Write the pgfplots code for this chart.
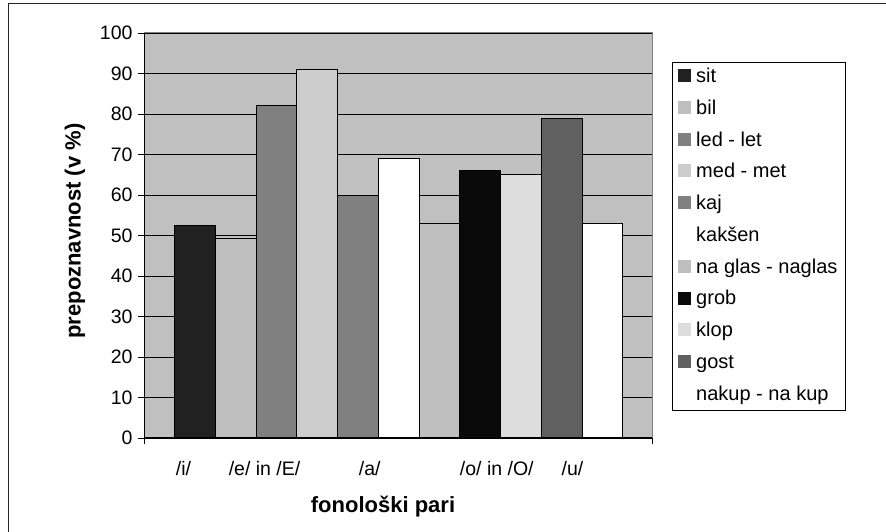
\documentclass[border=0pt]{standalone}
\usepackage{fontspec}
\setmainfont{Liberation Sans}
\usepackage{pgfplots}
\pgfplotsset{compat=1.18}

\definecolor{plotbg}{HTML}{C0C0C0}
\definecolor{framegray}{HTML}{808080}
\definecolor{csit}{HTML}{212121}
\definecolor{cbil}{HTML}{BFBFBF}
\definecolor{cled}{HTML}{808080}
\definecolor{cmed}{HTML}{CDCDCD}
\definecolor{ckaj}{HTML}{808080}
\definecolor{ckaksen}{HTML}{FFFFFF}
\definecolor{cglas}{HTML}{BFBFBF}
\definecolor{cgrob}{HTML}{0A0A0A}
\definecolor{cklop}{HTML}{DDDDDD}
\definecolor{cgost}{HTML}{606060}
\definecolor{cnakup}{HTML}{FFFFFF}

\begin{document}
\begin{tikzpicture}[x=1pt,y=1pt]
\path[use as bounding box] (0,0) rectangle (886,532);
% outer chart frame (cut off at right and bottom)
\draw[line width=1pt, black!85] (8,0) -- (8,528) -- (886,528);

\begin{axis}[
  at={(144pt,94pt)}, anchor=south west,
  scale only axis, width=508pt, height=405pt,
  ybar, bar width=1, bar shift=0pt,
  xmin=-1.25, xmax=11.22,
  ymin=0, ymax=100,
  ytick={0,10,...,100},
  xtick={-0.28,1.71,4.29,7.41,9.27},
  xticklabels={/i/, /e/ in /E/, /a/, /o/ in /O/, /u/},
  extra x ticks={-1.25,11.22},
  extra x tick labels={},
  extra x tick style={xtick style={draw=black}},
  xtick style={draw=none},
  ytick style={draw=black, line width=0.8pt},
  tick align=outside,
  major tick length=6pt,
  xtick pos=bottom, ytick pos=left,
  ymajorgrids,
  major grid style={black, line width=0.8pt},
  axis background/.style={fill=plotbg},
  axis line style={draw=framegray, line width=1pt},
  /pgf/number format/assume math mode=true,
  ticklabel style={font=\fontsize{19.5}{22}\selectfont},
  xticklabel style={yshift=-14pt},
  yticklabel style={xshift=-2pt},
  xlabel={fonološki pari},
  ylabel={prepoznavnost (v \%)},
  xlabel style={font=\bfseries\fontsize{22}{26}\selectfont, at={(axis description cs:0.4705,-0.170)}, anchor=center},
  ylabel style={font=\bfseries\fontsize{22}{26}\selectfont, at={(axis description cs:-0.136,0.511)}, anchor=center, rotate=0},
  every axis plot/.append style={draw=black, line width=0.8pt},
  legend image code/.code={\draw[#1, draw=none] (0pt,-4.5pt) rectangle (13pt,8.5pt);},
  legend cell align=left,
  legend style={
    at={(axis description cs:1.039,0.928)}, anchor=north west,
    draw=black, line width=0.8pt, fill=white,
    font=\fontsize{20}{22}\selectfont,
    inner xsep=6pt, inner ysep=3.5pt,
    row sep=8.57pt, column sep=3pt,
    nodes={inner sep=2pt, text height=14.5pt, text depth=4.7pt},
  },
]
\addplot[fill=csit]    coordinates {(0,52.5)};
\addplot[fill=cbil]    coordinates {(1,49.4)};
\addplot[fill=cled]    coordinates {(2,82)};
\addplot[fill=cmed]    coordinates {(3,91)};
\addplot[fill=ckaj]    coordinates {(4,60)};
\addplot[fill=ckaksen] coordinates {(5,69)};
\addplot[fill=cglas]   coordinates {(6,53)};
\addplot[fill=cgrob]   coordinates {(7,66)};
\addplot[fill=cklop]   coordinates {(8,65)};
\addplot[fill=cgost]   coordinates {(9,79)};
\addplot[fill=cnakup]  coordinates {(10,53)};
\legend{sit, bil, led - let, med - met, kaj, kakšen, na glas - naglas, grob, klop, gost, nakup - na kup}
% left and bottom axis lines are dark, the rest of the frame gray
\draw[black, line width=1pt] (rel axis cs:0,1) -- (rel axis cs:0,0) -- (rel axis cs:1,0);
\end{axis}
\end{tikzpicture}
\end{document}
